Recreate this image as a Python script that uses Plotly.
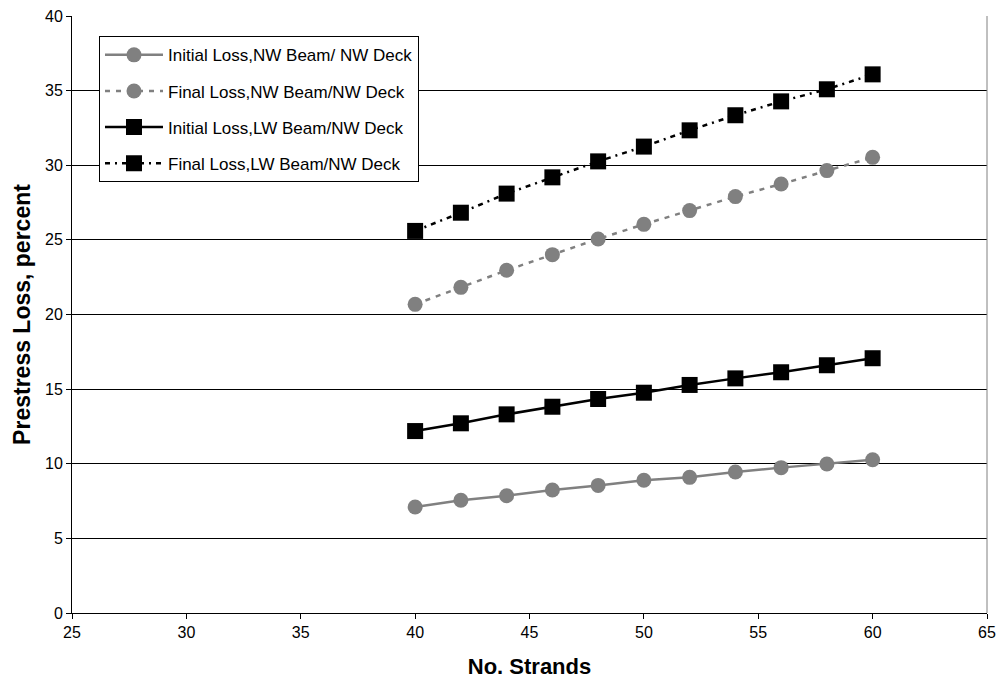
import plotly.graph_objects as go

strands = [40, 42, 44, 46, 48, 50, 52, 54, 56, 58, 60]
initial_nw = [7.10, 7.55, 7.86, 8.24, 8.55, 8.89, 9.09, 9.45, 9.74, 9.98, 10.27]
final_nw = [20.68, 21.82, 22.96, 24.01, 25.06, 26.04, 26.96, 27.90, 28.74, 29.64, 30.53]
initial_lw = [12.19, 12.71, 13.31, 13.82, 14.34, 14.76, 15.28, 15.72, 16.13, 16.60, 17.07]
final_lw = [25.60, 26.82, 28.10, 29.19, 30.26, 31.25, 32.34, 33.35, 34.28, 35.09, 36.09]

names = [
    "Initial Loss,NW Beam/ NW Deck",
    "Final Loss,NW Beam/NW Deck",
    "Initial Loss,LW Beam/NW Deck",
    "Final Loss,LW Beam/NW Deck",
]
x_ticks = [25, 30, 35, 40, 45, 50, 55, 60, 65]
y_ticks = [0, 5, 10, 15, 20, 25, 30, 35, 40]

GRAY = "#808080"
FONT = "Liberation Sans, Arial, sans-serif"

fig = go.Figure()
fig.add_trace(go.Scatter(
    x=strands, y=initial_nw, name=names[0], mode="lines+markers", legendgroup="a",
    line=dict(color=GRAY, width=2.5),
    marker=dict(symbol="circle", size=15, color=GRAY)))
fig.add_trace(go.Scatter(
    x=strands, y=final_nw, name=names[1], mode="lines+markers", legendgroup="b",
    line=dict(color=GRAY, width=2.5, dash="5px,6px"),
    marker=dict(symbol="circle", size=15, color=GRAY)))
fig.add_trace(go.Scatter(
    x=strands, y=initial_lw, name=names[2], mode="lines+markers", legendgroup="c",
    line=dict(color="black", width=2.5),
    marker=dict(symbol="square", size=16, color="black")))
fig.add_trace(go.Scatter(
    x=strands, y=final_lw, name=names[3], mode="lines+markers", legendgroup="d",
    line=dict(color="black", width=2.5, dash="5px,5px,2px,5px"),
    marker=dict(symbol="square", size=16, color="black")))

fig.add_shape(type="line", xref="paper", yref="paper", x0=1, x1=1, y0=0, y1=1,
              line=dict(color=GRAY, width=1))

fig.update_layout(
    width=997, height=679,
    margin=dict(l=72, r=10, t=16, b=66),
    paper_bgcolor="white", plot_bgcolor="white",
    font=dict(family=FONT, size=16, color="black"),
    showlegend=True,
    legend=dict(
        x=0.0295, y=0.966, xanchor="left", yanchor="top",
        bgcolor="white", bordercolor="black", borderwidth=1,
        font=dict(family=FONT, size=17, color="black"),
        traceorder="grouped", tracegroupgap=11, itemwidth=58,
    ),
    xaxis=dict(
        range=[25, 65], tickmode="array", tickvals=x_ticks,
        showgrid=False, zeroline=False, showline=True, linecolor="black", linewidth=1,
        ticks="outside", ticklen=5, tickcolor="black",
        tickfont=dict(family=FONT, size=16),
        title=dict(text="<b>No. Strands</b>", font=dict(family=FONT, size=22), standoff=19),
        automargin=False,
    ),
    yaxis=dict(
        range=[0, 40], tickmode="array", tickvals=y_ticks,
        showgrid=True, gridcolor="black", gridwidth=1,
        zeroline=False, showline=True, linecolor="black", linewidth=1,
        ticks="outside", ticklen=5, tickcolor="black",
        tickfont=dict(family=FONT, size=16),
        title=dict(text="<b>Prestress Loss, percent</b>", font=dict(family=FONT, size=23), standoff=7),
        automargin=False,
    ),
)

fig.write_html("out.html", config={"displayModeBar": False},
               post_script="document.body.style.margin='0';")
